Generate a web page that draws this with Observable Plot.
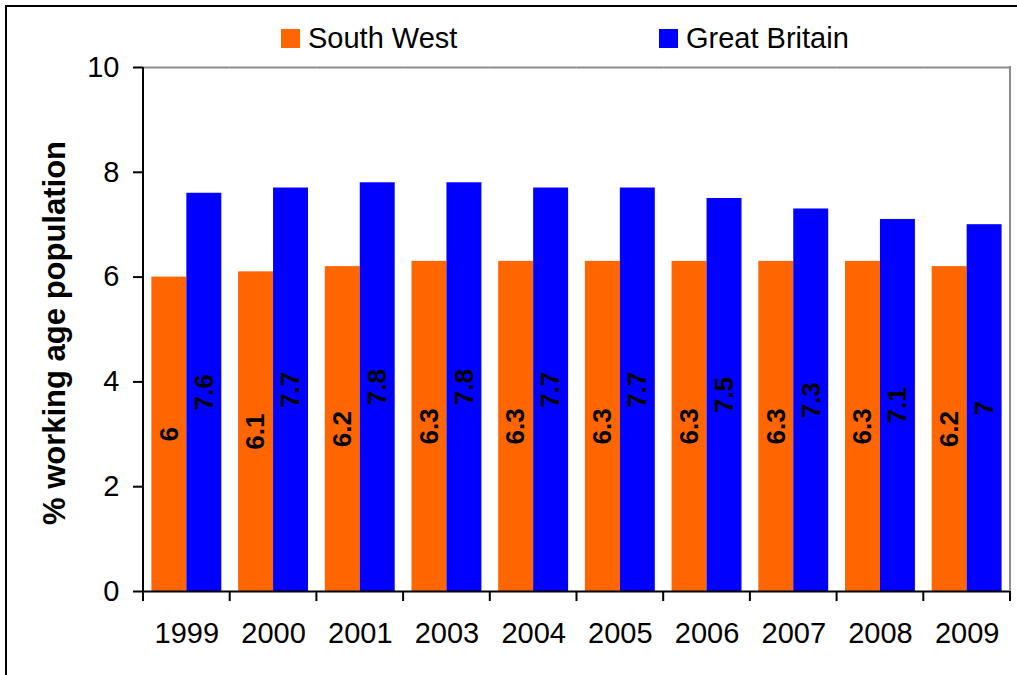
<!DOCTYPE html>
<html>
<head>
<meta charset="utf-8">
<script src="https://cdn.jsdelivr.net/npm/d3@7"></script>
<script src="https://cdn.jsdelivr.net/npm/@observablehq/plot@0.6"></script>
<style>
  html, body { margin: 0; padding: 0; background: #fff; overflow: hidden; }
  #wrap { position: relative; width: 1017px; height: 675px; overflow: hidden;
          font-family: "Liberation Sans", Arial, sans-serif; }
  #border { position: absolute; left: 5px; top: 5px; width: 1100px; height: 800px;
            border: 2px solid #000; box-sizing: border-box; pointer-events: none; }
  #chart { position: absolute; left: 0; top: 0; }
  .legend { position: absolute; top: 22px; display: flex; align-items: center;
            font-size: 29px; color: #000; }
  .legend .sw { width: 19px; height: 19px; margin-right: 8px; }
</style>
</head>
<body>
<div id="wrap">
  <div id="chart"></div>
  <div id="border"></div>
  <div class="legend" style="left:281px"><span class="sw" style="background:#ff6600"></span>South West</div>
  <div class="legend" style="left:659px"><span class="sw" style="background:#0000ff"></span>Great Britain</div>
</div>
<script>
// Share of working age population, South West vs Great Britain, by year
const years = ["1999", "2000", "2001", "2003", "2004", "2005", "2006", "2007", "2008", "2009"];
const southWest = [6, 6.1, 6.2, 6.3, 6.3, 6.3, 6.3, 6.3, 6.3, 6.2];
const greatBritain = [7.6, 7.7, 7.8, 7.8, 7.7, 7.7, 7.5, 7.3, 7.1, 7];
const seriesNames = ["South West", "Great Britain"];
const seriesColors = ["#ff6600", "#0000ff"];
const yTicks = [0, 2, 4, 6, 8, 10];
const yTitle = "% working age population";

const rows = years.flatMap((year, i) => [
  {year, series: seriesNames[0], value: southWest[i]},
  {year, series: seriesNames[1], value: greatBritain[i]}
]);

const chart = Plot.plot({
  width: 1017,
  height: 675,
  marginLeft: 143,
  marginTop: 67,
  marginRight: 7,
  marginBottom: 84,
  style: {fontFamily: "'Liberation Sans', Arial, sans-serif", background: "transparent", overflow: "visible"},
  fx: {domain: years, padding: 0, round: false, label: null},
  x: {domain: seriesNames, paddingInner: 0, paddingOuter: 0.24, round: false, axis: null},
  y: {domain: [0, 10], label: null},
  color: {domain: seriesNames, range: seriesColors},
  marks: [
    Plot.barY(rows, {fx: "year", x: "series", y: "value", fill: "series"}),
    Plot.text(rows, {
      fx: "year", x: "series", y: d => d.value / 2, text: d => String(d.value),
      rotate: -90, fontWeight: "bold", fontSize: 26, fill: "#000"
    }),
    Plot.ruleY([10], {stroke: "#8c8c8c", strokeWidth: 2}),
    Plot.ruleY([0], {stroke: "#000", strokeWidth: 2}),
    Plot.axisY({ticks: yTicks, tickSize: 10, tickPadding: 14, fontSize: 29, label: null, strokeWidth: 2, stroke: "#000", fill: "#000"}),
    Plot.axisFx({anchor: "bottom", tickSize: 0, tickPadding: 31, fontSize: 29, label: null, fill: "#000"})
  ]
});

document.getElementById("chart").appendChild(chart);

// Category boundary ticks, axis lines and the y title, placed from the plot's scales
const fxInfo = chart.scale("fx");
const yInfo = chart.scale("y");
const fxBand = d3.scaleBand().domain(fxInfo.domain).range(fxInfo.range).padding(0);
const yLin = d3.scaleLinear().domain(yInfo.domain).range(yInfo.range);
const y0 = yLin(0), y10 = yLin(10);
const edges = years.map(d => fxBand(d)).concat([fxBand(years[years.length - 1]) + fxBand.bandwidth()]);
const svg = d3.select(chart);
const g = svg.append("g");
g.selectAll("line.edge").data(edges).join("line")
  .attr("x1", d => d).attr("x2", d => d)
  .attr("y1", y0).attr("y2", y0 + 10)
  .attr("stroke", "#000").attr("stroke-width", 2);
g.append("line")
  .attr("x1", fxInfo.range[0]).attr("x2", fxInfo.range[0])
  .attr("y1", y10).attr("y2", y0 + 1)
  .attr("stroke", "#000").attr("stroke-width", 2);
g.append("line")
  .attr("x1", fxInfo.range[1]).attr("x2", fxInfo.range[1])
  .attr("y1", y10 - 1).attr("y2", y0)
  .attr("stroke", "#8c8c8c").attr("stroke-width", 2);
g.append("text")
  .attr("transform", `translate(57,${(y0 + y10) / 2 + 4}) rotate(-90)`)
  .attr("text-anchor", "middle")
  .attr("dominant-baseline", "middle")
  .attr("font-size", 31)
  .attr("font-weight", "bold")
  .attr("fill", "#000")
  .text(yTitle);
</script>
</body>
</html>
